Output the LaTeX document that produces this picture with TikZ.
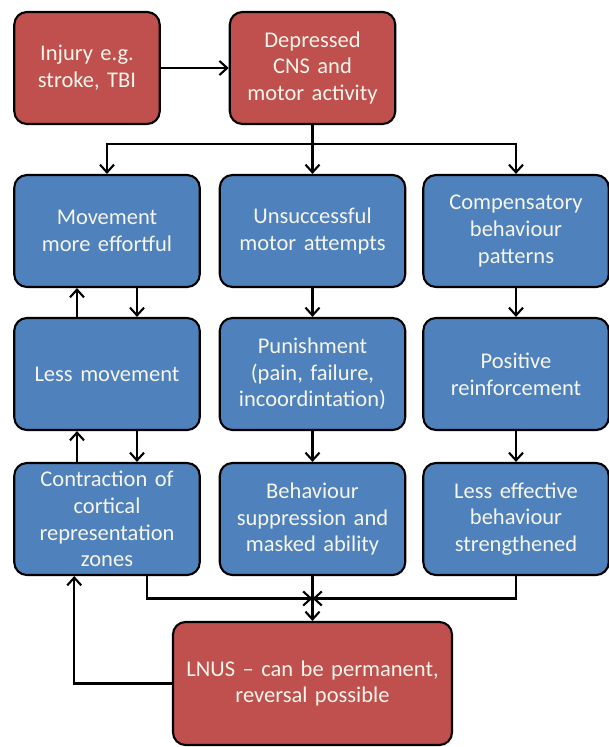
\documentclass[tikz,border=0pt]{standalone}
\usepackage{fontspec}
\setmainfont{Carlito}
\usetikzlibrary{arrows.meta,calc}
\definecolor{boxred}{RGB}{192,80,77}
\definecolor{boxblue}{RGB}{79,129,189}
\definecolor{boxtext}{RGB}{245,245,235}
\begin{document}
\begin{tikzpicture}[x=0.025cm, y=-0.025cm, >={Straight Barb[length=5.5pt,width=10pt]}, line width=1.5pt,
		font=\fontsize{16}{19}\selectfont,
		card/.style={draw=black, line width=1.5pt, rounded corners=9pt, text=boxtext, align=center,
			minimum width=4.55cm, minimum height=2.8cm, text width=4.4cm},
		redbox/.style={card, fill=boxred},
		bluebox/.style={card, fill=boxblue}]
		\useasboundingbox (0,0) rectangle (609,747);
		% top row
		\node[redbox, minimum width=3.6cm, text width=3.4cm] (inj) at (87,68) {Injury e.g.\\stroke, TBI};
		\node[redbox, minimum width=4.075cm, text width=3.9cm] (dep) at (312.5,68) {Depressed\\CNS and\\motor activity};
		% three columns
		\node[bluebox] (move) at (107,231) {Movement\\more effortful};
		\node[bluebox] (unsucc) at (312.5,231) {Unsuccessful\\motor attempts};
		\node[bluebox] (comp) at (516,231) {Compensatory\\behaviour\\patterns};
		\node[bluebox] (less) at (107,374) {Less movement};
		\node[bluebox] (pun) at (312.5,374) {Punishment\\(pain, failure,\\incoordintation)};
		\node[bluebox] (pos) at (516,374) {Positive\\reinforcement};
		\node[bluebox] (contr) at (107,519) {Contraction of\\cortical\\representation\\zones};
		\node[bluebox] (behav) at (312.5,519) {Behaviour\\suppression and\\masked ability};
		\node[bluebox] (lesseff) at (516,519) {Less effective\\behaviour\\strengthened};
		% bottom
		\node[redbox, minimum width=6.975cm, minimum height=3.075cm, text width=6.7cm] (lnus) at (312.5,683.5) {LNUS -- can be permanent,\\reversal possible};
		% arrows
		\draw[->] (inj) -- (dep);
		\draw[->] (dep.south) -- (unsucc.north);
		\draw[->] (dep.south) ++(0,19) -| (move.north);
		\draw[->] (dep.south) ++(0,19) -| (comp.north);
		\foreach \a/\b in {unsucc/pun, pun/behav, comp/pos, pos/lesseff} {
			\draw[->] (\a.south) -- (\b.north);
		}
		% loops in the left column
		\foreach \a/\b in {move/less, less/contr} {
			\draw[->] ([xshift=0.75cm]\a.south) -- ([xshift=0.75cm]\b.north);
			\draw[->] ([xshift=-0.75cm]\b.north) -- ([xshift=-0.75cm]\a.south);
		}
		% join above LNUS
		\coordinate (join) at ($(behav.south)!0.5!(lnus.north)$);
		\draw[->] ([xshift=1cm]contr.south) |- (join);
		\draw[->] (lesseff.south) |- (join);
		\draw[->] (behav.south) -- (lnus.north);
		\draw[->] (lnus.west) -| ([xshift=1.525cm]contr.south west);
	\end{tikzpicture}
\end{document}
